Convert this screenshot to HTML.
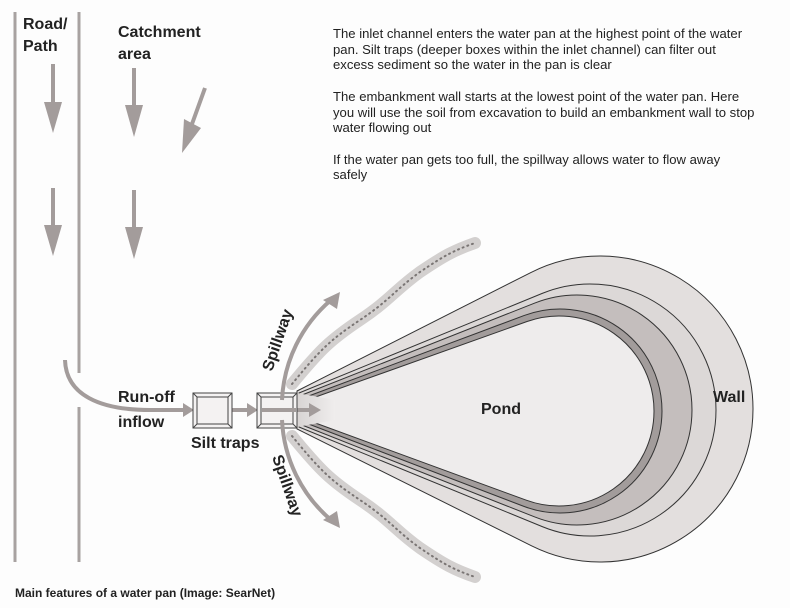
<!DOCTYPE html>
<html><head><meta charset="utf-8"><style>
html,body{margin:0;padding:0;background:#fdfdfd;}
svg{display:block;font-family:"Liberation Sans",sans-serif;}
</style></head><body>
<svg id="s" width="790" height="608" viewBox="0 0 790 608" xmlns="http://www.w3.org/2000/svg">
<defs>
<linearGradient id="ch" x1="0" x2="1"><stop offset="0" stop-color="#d8d4d3"/><stop offset="1" stop-color="#efeded"/></linearGradient>
</defs>
<rect width="790" height="608" fill="#fdfdfd"/>
<line x1="15" y1="12" x2="15" y2="562" stroke="#a8a2a1" stroke-width="3"/>
<line x1="79" y1="12" x2="79" y2="373" stroke="#a8a2a1" stroke-width="3"/>
<line x1="79" y1="407" x2="79" y2="562" stroke="#a8a2a1" stroke-width="3"/>
<g font-weight="bold" font-size="16" fill="#222">
<text x="23" y="29">Road/</text><text x="23" y="51">Path</text>
<text x="118" y="37">Catchment</text><text x="118" y="59">area</text>
</g>
<g fill="#a39c9b" stroke="#a39c9b">
<line x1="53" y1="64" x2="53" y2="105" stroke-width="4"/><path d="M44,102 L62,102 L53,133 z" stroke="none"/>
<line x1="53" y1="188" x2="53" y2="228" stroke-width="4"/><path d="M44,225 L62,225 L53,256 z" stroke="none"/>
<line x1="134" y1="68" x2="134" y2="108" stroke-width="4"/><path d="M125,105 L143,105 L134,137 z" stroke="none"/>
<line x1="134" y1="190" x2="134" y2="230" stroke-width="4"/><path d="M125,227 L143,227 L134,259 z" stroke="none"/>
<line x1="205" y1="88" x2="192" y2="124" stroke-width="4"/><path d="M184,119 L201,128 L182,153 z" stroke="none"/>
</g>
<g id="pond" stroke="#333" stroke-width="1"></g>
<path d="M65,360 C66,395 100,410 150,410 L186,410" fill="none" stroke="#a39c9b" stroke-width="4"/>
<path d="M183,403 L194,410 L183,417 z" fill="#a39c9b"/>
<line x1="232" y1="410" x2="250" y2="410" stroke="#a39c9b" stroke-width="4"/>
<path d="M247,403 L258,410 L247,417 z" fill="#a39c9b"/>
<line x1="297" y1="410" x2="312" y2="410" stroke="#a39c9b" stroke-width="4"/>
<path d="M309,403 L321,410 L309,417 z" fill="#a39c9b"/>
<g fill="none" stroke="#444" stroke-width="1">
<rect x="193" y="393" width="39" height="35" fill="#f4f2f2"/><rect x="197" y="397" width="31" height="27"/>
<line x1="193" y1="393" x2="197" y2="397"/><line x1="232" y1="393" x2="228" y2="397"/><line x1="193" y1="428" x2="197" y2="424"/><line x1="232" y1="428" x2="228" y2="424"/>
<rect x="257" y="393" width="40" height="35" fill="#f4f2f2"/><rect x="261" y="397" width="32" height="27"/>
<line x1="257" y1="393" x2="261" y2="397"/><line x1="297" y1="393" x2="293" y2="397"/><line x1="257" y1="428" x2="261" y2="424"/><line x1="297" y1="428" x2="293" y2="424"/>
</g>
<line x1="262" y1="410" x2="296" y2="410" stroke="#a39c9b" stroke-width="4"/>
<path d="M282,400 A140,140 0 0 1 331,300" fill="none" stroke="#a39c9b" stroke-width="4"/>
<path d="M323,300 L340,292 L337,309 z" fill="#a39c9b"/>
<path d="M282,420 A140,140 0 0 0 331,520" fill="none" stroke="#a39c9b" stroke-width="4"/>
<path d="M323,520 L340,528 L337,511 z" fill="#a39c9b"/>
<g fill="none" stroke-linecap="round">
<path d="M292,384 C320,350 330,340 360,320 C390,300 395,290 420,272 C445,255 455,250 475,243" stroke="#d3d0cf" stroke-width="12"/>
<path d="M292,384 C320,350 330,340 360,320 C390,300 395,290 420,272 C445,255 455,250 475,243" stroke="#7a7574" stroke-width="2" stroke-dasharray="1 4"/>
<path d="M292,436 C320,470 330,480 360,500 C390,520 395,530 420,548 C445,565 455,570 475,577" stroke="#d3d0cf" stroke-width="12"/>
<path d="M292,436 C320,470 330,480 360,500 C390,520 395,530 420,548 C445,565 455,570 475,577" stroke="#7a7574" stroke-width="2" stroke-dasharray="1 4"/>
</g>
<g font-weight="bold" fill="#222">
<text x="118" y="402" font-size="16">Run-off</text>
<text x="118" y="427" font-size="16">inflow</text>
<text x="191" y="448" font-size="16">Silt traps</text>
<text x="481" y="414" font-size="16">Pond</text>
<text x="713" y="402" font-size="16">Wall</text>
<text font-size="16" transform="translate(272,372) rotate(-71)">Spillway</text>
<text font-size="16" transform="translate(272,457) rotate(71)">Spillway</text>
<text x="15" y="597" font-size="12">Main features of a water pan (Image: SearNet)</text>
</g>
<g font-size="13.1" fill="#222">
<text x="333" y="38">The inlet channel enters the water pan at the highest point of the water</text>
<text x="333" y="54">pan. Silt traps (deeper boxes within the inlet channel) can filter out</text>
<text x="333" y="69">excess sediment so the water in the pan is clear</text>
<text x="333" y="101">The embankment wall starts at the lowest point of the water pan. Here</text>
<text x="333" y="117">you will use the soil from excavation to build an embankment wall to stop</text>
<text x="333" y="132">water flowing out</text>
<text x="333" y="164">If the water pan gets too full, the spillway allows water to flow away</text>
<text x="333" y="179">safely</text>
</g>
</svg>
<script>
(function(){
var g=document.getElementById('pond');
function tip(px,py1,py2,cx,cy,r,fill){
 function tan(px,py,up){
  var dx=px-cx,dy=py-cy,d=Math.sqrt(dx*dx+dy*dy);
  var base=Math.atan2(dy,dx),a=Math.acos(r/d);
  var t1=[cx+r*Math.cos(base+a),cy+r*Math.sin(base+a)],t2=[cx+r*Math.cos(base-a),cy+r*Math.sin(base-a)];
  return up?(t1[1]<t2[1]?t1:t2):(t1[1]>t2[1]?t1:t2);
 }
 var T=tan(px,py1,true),B=tan(px,py2,false);
 var p=document.createElementNS('http://www.w3.org/2000/svg','path');
 p.setAttribute('d','M'+px+','+py1+' L'+T[0]+','+T[1]+' A'+r+','+r+' 0 1 1 '+B[0]+','+B[1]+' L'+px+','+py2+' Z');
 p.setAttribute('fill',fill);g.appendChild(p);
}
tip(297,391,429,600,409,153,'#e3dfde');
tip(299,393,427,590,410,126,'#dcd8d7');
tip(302,395,425,577,410,115,'#c4bebd');
tip(306,397,423,560,411,102,'#a29c9b');
tip(310,399,421,559,411,95,'#eeecec');
var c=document.createElementNS('http://www.w3.org/2000/svg','path');
c.setAttribute('d','M297,393 L335,400 L335,420 L297,427 Z');c.setAttribute('fill','url(#ch)');c.setAttribute('stroke','none');g.appendChild(c);
})();
</script>
</body></html>
